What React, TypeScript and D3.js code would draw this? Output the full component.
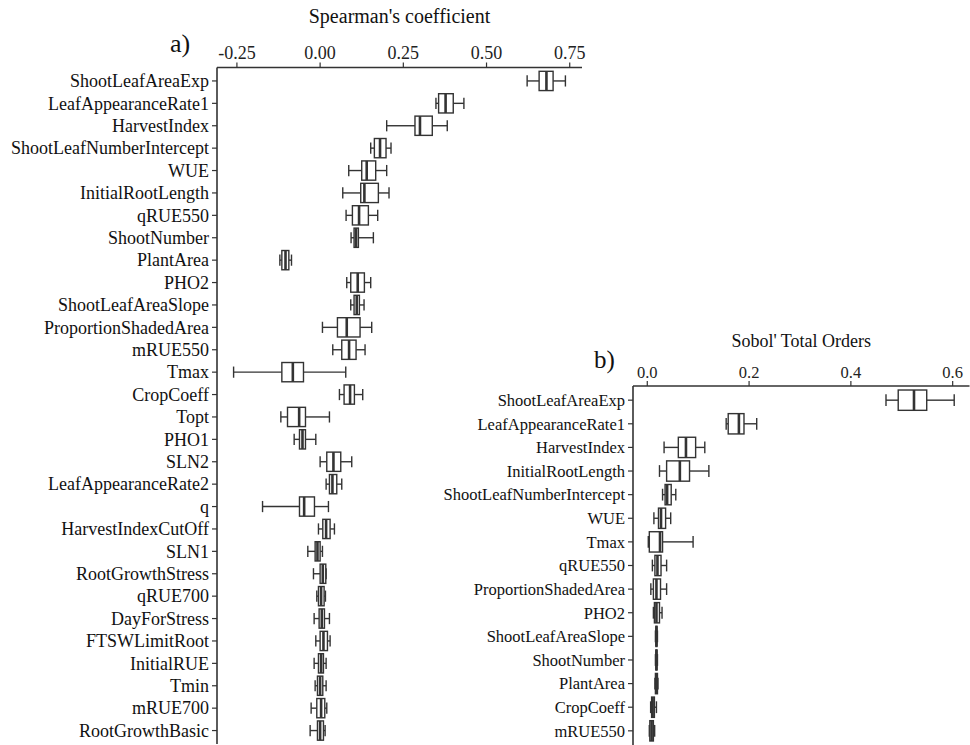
import React from "react";
import * as d3 from "d3";

// ---------- Panel a) Spearman's coefficient ----------
const namesA = [
  "ShootLeafAreaExp", "LeafAppearanceRate1", "HarvestIndex", "ShootLeafNumberIntercept", "WUE",
  "InitialRootLength", "qRUE550", "ShootNumber", "PlantArea", "PHO2",
  "ShootLeafAreaSlope", "ProportionShadedArea", "mRUE550", "Tmax", "CropCoeff",
  "Topt", "PHO1", "SLN2", "LeafAppearanceRate2", "q",
  "HarvestIndexCutOff", "SLN1", "RootGrowthStress", "qRUE700", "DayForStress",
  "FTSWLimitRoot", "InitialRUE", "Tmin", "mRUE700", "RootGrowthBasic",
];
const minA = [0.622, 0.348, 0.200, 0.152, 0.086, 0.068, 0.078, 0.093, -0.121, 0.080, 0.092, 0.007, 0.038, -0.260, 0.058, -0.118, -0.078, 0.000, 0.018, -0.173, -0.005, -0.037, -0.020, -0.010, -0.018, -0.013, -0.018, -0.015, -0.027, -0.030];
const q1A = [0.658, 0.356, 0.285, 0.163, 0.125, 0.122, 0.097, 0.102, -0.115, 0.092, 0.102, 0.052, 0.065, -0.115, 0.072, -0.098, -0.062, 0.020, 0.028, -0.062, 0.008, -0.015, 0.000, -0.005, -0.003, 0.000, -0.005, -0.008, -0.010, -0.008];
const medA = [0.680, 0.377, 0.300, 0.180, 0.140, 0.133, 0.117, 0.108, -0.104, 0.113, 0.110, 0.080, 0.087, -0.082, 0.090, -0.063, -0.053, 0.040, 0.037, -0.048, 0.018, -0.008, 0.008, 0.003, 0.005, 0.010, 0.003, 0.000, 0.003, 0.000];
const q3A = [0.700, 0.400, 0.337, 0.198, 0.167, 0.175, 0.145, 0.115, -0.094, 0.133, 0.118, 0.120, 0.108, -0.050, 0.103, -0.044, -0.044, 0.062, 0.050, -0.017, 0.030, 0.000, 0.017, 0.012, 0.013, 0.022, 0.010, 0.008, 0.014, 0.010];
const maxA = [0.737, 0.432, 0.382, 0.213, 0.200, 0.207, 0.173, 0.160, -0.086, 0.152, 0.132, 0.155, 0.135, 0.077, 0.128, 0.028, -0.013, 0.095, 0.065, 0.025, 0.043, 0.007, 0.018, 0.016, 0.028, 0.030, 0.018, 0.018, 0.020, 0.015];
const ticksA = [-0.25, 0, 0.25, 0.5, 0.75];

// ---------- Panel b) Sobol' Total Orders ----------
const namesB = [
  "ShootLeafAreaExp", "LeafAppearanceRate1", "HarvestIndex", "InitialRootLength", "ShootLeafNumberIntercept",
  "WUE", "Tmax", "qRUE550", "ProportionShadedArea", "PHO2",
  "ShootLeafAreaSlope", "ShootNumber", "PlantArea", "CropCoeff", "mRUE550",
];
const minB = [0.469, 0.155, 0.033, 0.024, 0.030, 0.013, 0.002, 0.010, 0.007, 0.012, 0.016, 0.016, 0.015, 0.0066, 0.004];
const q1B = [0.493, 0.159, 0.061, 0.038, 0.035, 0.022, 0.004, 0.015, 0.012, 0.014, 0.017, 0.017, 0.016, 0.0085, 0.005];
const medB = [0.524, 0.180, 0.076, 0.064, 0.039, 0.027, 0.025, 0.020, 0.018, 0.018, 0.018, 0.018, 0.018, 0.0105, 0.0085];
const q3B = [0.549, 0.190, 0.095, 0.083, 0.047, 0.036, 0.030, 0.027, 0.026, 0.024, 0.019, 0.019, 0.020, 0.014, 0.012];
const maxB = [0.603, 0.215, 0.113, 0.121, 0.056, 0.046, 0.090, 0.038, 0.038, 0.029, 0.020, 0.020, 0.021, 0.018, 0.0145];
const ticksB = [0, 0.2, 0.4, 0.6];

const FONT = "'Liberation Serif', 'Times New Roman', serif";
const INK = "#333";

const fmtA = (v: number) => d3.format(".2f")(v).replace("\u2212", "-");
const fmtB = (v: number) => d3.format(".1f")(v).replace("\u2212", "-");

type PanelProps = {
  names: string[]; mins: number[]; q1s: number[]; meds: number[]; q3s: number[]; maxs: number[];
  ticks: number[]; fmt: (v: number) => string;
  x0: number; x1: number; y0: number; y1: number;
  labelSize: number; tickSize: number; titleSize: number;
  title: string; titleY: number; tickY: number;
  tag: string; tagX: number; tagY: number; tagSize: number;
};

function Panel(p: PanelProps) {
  const lo = d3.min(p.mins) as number;
  const hi = d3.max(p.maxs) as number;
  const pad = (hi - lo) * 0.05;
  const x = d3.scaleLinear().domain([lo - pad, hi + pad]).range([p.x0, p.x1]);
  const y = d3.scalePoint<string>().domain(p.names).range([p.y0, p.y1]).padding(0.6);
  const step = y.step();
  const bh = step * 0.86;
  const cap = step * 0.5;
  return (
    <g>
      <text x={(p.x0 + p.x1) / 2} y={p.titleY} textAnchor="middle" fontFamily={FONT} fontSize={p.titleSize} fill="#111">{p.title}</text>
      <text x={p.tagX} y={p.tagY} fontFamily={FONT} fontSize={p.tagSize} fill="#111">{p.tag}</text>
      {p.ticks.map((t) => (
        <g key={t}>
          <line x1={x(t)} x2={x(t)} y1={p.y0 - 5} y2={p.y0} stroke={INK} strokeWidth={1.2} />
          <text x={x(t)} y={p.tickY} textAnchor="middle" fontFamily={FONT} fontSize={p.tickSize} fill="#222">{p.fmt(t)}</text>
        </g>
      ))}
      <line x1={p.x0} x2={p.x1} y1={p.y0} y2={p.y0} stroke={INK} strokeWidth={1.6} />
      <line x1={p.x0} x2={p.x0} y1={p.y0} y2={p.y1} stroke={INK} strokeWidth={1.6} />
      {p.names.map((n, i) => {
        const cy = y(n) as number;
        return (
          <g key={n}>
            <line x1={p.x0 - 5} x2={p.x0} y1={cy} y2={cy} stroke={INK} strokeWidth={1.2} />
            <text x={p.x0 - 8} y={cy} dy="0.35em" textAnchor="end" fontFamily={FONT} fontSize={p.labelSize} fill="#111">{n}</text>
            <line x1={x(p.mins[i])} x2={x(p.q1s[i])} y1={cy} y2={cy} stroke={INK} strokeWidth={1.4} />
            <line x1={x(p.q3s[i])} x2={x(p.maxs[i])} y1={cy} y2={cy} stroke={INK} strokeWidth={1.4} />
            <line x1={x(p.mins[i])} x2={x(p.mins[i])} y1={cy - cap / 2} y2={cy + cap / 2} stroke={INK} strokeWidth={1.4} />
            <line x1={x(p.maxs[i])} x2={x(p.maxs[i])} y1={cy - cap / 2} y2={cy + cap / 2} stroke={INK} strokeWidth={1.4} />
            <rect x={x(p.q1s[i])} y={cy - bh / 2} width={Math.max(0.5, x(p.q3s[i]) - x(p.q1s[i]))} height={bh} fill="#fff" stroke={INK} strokeWidth={1.4} />
            <line x1={x(p.meds[i])} x2={x(p.meds[i])} y1={cy - bh / 2} y2={cy + bh / 2} stroke={INK} strokeWidth={2.6} />
          </g>
        );
      })}
    </g>
  );
}

export default function App() {
  return (
    <svg width={970} height={745} style={{ position: "absolute", left: 0, top: 0, background: "#fff" }}>
      <rect width={970} height={745} fill="#fff" />
      <Panel names={namesA} mins={minA} q1s={q1A} meds={medA} q3s={q3A} maxs={maxA}
        ticks={ticksA} fmt={fmtA}
        x0={217} x1={582} y0={67.5} y1={744}
        labelSize={18} tickSize={18} titleSize={20}
        title="Spearman's coefficient" titleY={23} tickY={59}
        tag="a)" tagX={170} tagY={52} tagSize={26} />
      <Panel names={namesB} mins={minB} q1s={q1B} meds={medB} q3s={q3B} maxs={maxB}
        ticks={ticksB} fmt={fmtB}
        x0={633} x1={969.5} y0={386} y1={745}
        labelSize={16.5} tickSize={16.5} titleSize={18}
        title="Sobol' Total Orders" titleY={347} tickY={378}
        tag="b)" tagX={594} tagY={368} tagSize={25} />
    </svg>
  );
}
